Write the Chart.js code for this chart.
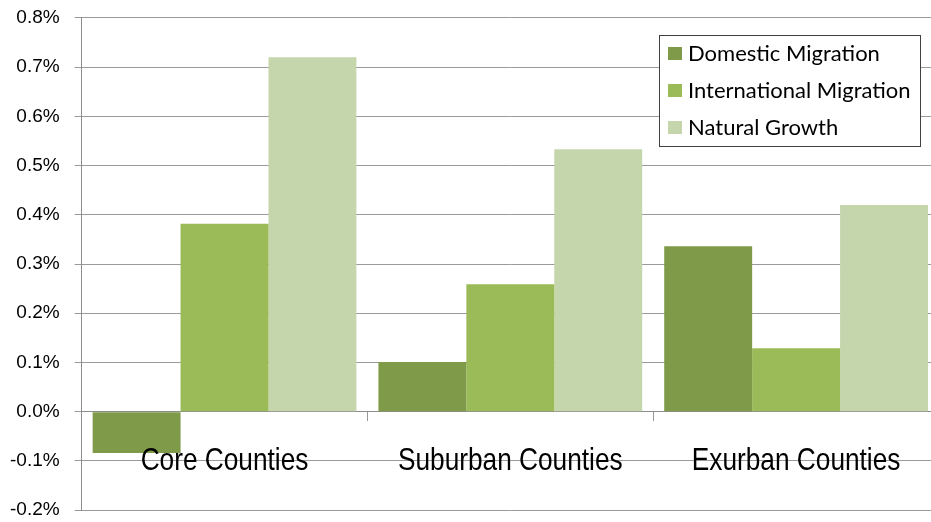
<!DOCTYPE html>
<html>
<head>
<meta charset="utf-8">
<script src="https://cdn.jsdelivr.net/npm/chart.js@4"></script>
<style>
    html, body { margin: 0; padding: 0; background: #fff; overflow: hidden; }
    #wrap { width: 940px; height: 528px; }
</style>
</head>
<body>
<div id="wrap"><canvas id="grafico"></canvas></div>
<script>
const categorias = ["Core Counties", "Suburban Counties", "Exurban Counties"];
const domestica = [-0.084, 0.101, 0.336];
const internacional = [0.382, 0.259, 0.129];
const natural = [0.72, 0.533, 0.42];
const nomesSeries = ["Domestic Migration", "International Migration", "Natural Growth"];
const cores = ["#7f9a48", "#9bbb59", "#c6d6ac"];

// rótulos das categorias desenhados logo abaixo da linha do zero (fonte estreitada)
const rotulosCategorias = {
    id: "rotulosCategorias",
    afterDraw(chart) {
        const ctx = chart.ctx;
        const x = chart.scales.x;
        const y = chart.scales.y;
        const aperto = 0.82;
        ctx.save();
        ctx.font = "32px 'Liberation Sans', Arial, sans-serif";
        ctx.fillStyle = "#000";
        ctx.textAlign = "center";
        ctx.textBaseline = "alphabetic";
        chart.data.labels.forEach((rotulo, i) => {
            ctx.save();
            ctx.translate(x.getPixelForValue(i), y.getPixelForValue(0) + 58);
            ctx.scale(aperto, 1);
            ctx.fillText(rotulo, 0, 0);
            ctx.restore();
        });
        ctx.restore();
    },
};

// legenda com moldura dentro da área do gráfico
const legendaCaixa = {
    id: "legendaCaixa",
    afterDraw(chart) {
        const ctx = chart.ctx;
        const area = chart.chartArea;
        const largura = 261;
        const altura = 111;
        const esquerda = Math.round(area.right - 19 - largura);
        const topo = Math.round(area.top + 17);
        ctx.save();
        ctx.fillStyle = "#fff";
        ctx.fillRect(esquerda, topo, largura, altura);
        ctx.strokeStyle = "#404040";
        ctx.lineWidth = 1;
        ctx.strokeRect(esquerda + 0.5, topo + 0.5, largura, altura);
        ctx.font = "22px Lato, 'Open Sans', sans-serif";
        ctx.textBaseline = "middle";
        chart.data.datasets.forEach((ds, i) => {
            const cy = topo + 18 + i * 37;
            ctx.fillStyle = ds.backgroundColor;
            ctx.fillRect(esquerda + 9, cy - 6, 14, 13);
            ctx.fillStyle = "#000";
            ctx.fillText(ds.label, esquerda + 29, cy + 1);
        });
        ctx.restore();
    },
};

const series = [domestica, internacional, natural];

new Chart(document.getElementById("grafico").getContext("2d"), {
    type: "bar",
    data: {
        labels: categorias,
        datasets: series.map((valores, i) => ({
            label: nomesSeries[i],
            data: valores,
            backgroundColor: cores[i],
            borderWidth: 0,
            barPercentage: 1,
            categoryPercentage: 0.923,
        })),
    },
    options: {
        responsive: true,
        maintainAspectRatio: false,
        animation: false,
        layout: {
            padding: { left: -5, right: 1, top: 0, bottom: 0 },
        },
        plugins: {
            legend: { display: false },
            tooltip: { enabled: false },
        },
        scales: {
            x: {
                position: { y: 0 },
                offset: true,
                grid: {
                    offset: true,
                    drawOnChartArea: false,
                    drawTicks: true,
                    tickLength: 9,
                    color: "#999",
                },
                border: { color: "#8c8c8c" },
                ticks: { display: false },
            },
            y: {
                min: -0.2,
                max: 0.8,
                grid: {
                    color: "#9a9a9a",
                    drawTicks: true,
                    tickLength: 7,
                },
                border: { color: "#8c8c8c" },
                ticks: {
                    stepSize: 0.1,
                    padding: 15,
                    color: "#000",
                    font: { family: "'Liberation Sans', Arial, sans-serif", size: 19, lineHeight: 0.3 },
                    callback: (v) => (Math.round(v * 10) / 10).toFixed(1) + "%",
                },
            },
        },
    },
    plugins: [rotulosCategorias, legendaCaixa],
});
</script>
</body>
</html>
